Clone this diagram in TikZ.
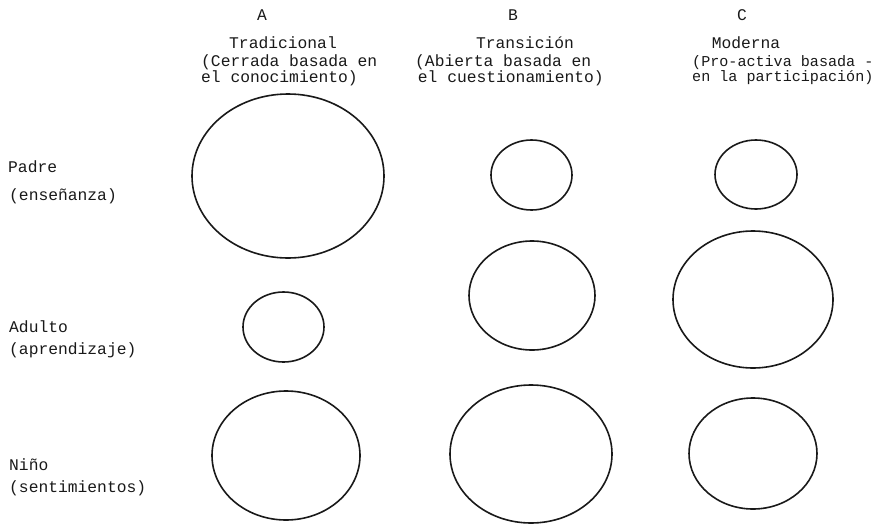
\documentclass[tikz,border=0pt]{standalone}
\usepackage{fontspec}
\newfontfamily\twfont{Liberation Mono}
\usetikzlibrary{shapes.geometric}
\tikzset{
  circ/.style={ellipse, draw=black!90, line width=1.6pt, inner sep=0pt, outer sep=0pt},
  txt/.style={font=\twfont\fontsize{16.3}{14}\selectfont, text=black!90, inner sep=0pt},
  lbl/.style={txt, anchor=west},
  sub/.style={txt, anchor=west, align=left}
}
\begin{document}
\begin{tikzpicture}[x=1pt,y=-1pt]
\useasboundingbox (0,0) rectangle (878,525);
% column headers
\node[txt] (hA) at (262,15) {A};
\node[txt] (hB) at (513,15) {B};
\node[txt] (hC) at (742,15) {C};
\node[txt] (tA) at (283,43) {Tradicional};
\node[txt] (tB) at (525,43) {Transición};
\node[txt] (tC) at (746,43) {Moderna};
\node[sub] (sA) at (201,70) {(Cerrada basada en\\el conocimiento)};
\node[sub] (sB) at (415,70) {(Abierta basada en\\\,el cuestionamiento)};
\node[sub, font=\twfont\fontsize{15.1}{14}\selectfont] (sC) at (692,70) {(Pro-activa basada -\\en la participación)};
% row labels
\node[lbl] (lP1) at (8,167) {Padre};
\node[lbl] (lP2) at (9,196) {(enseñanza)};
\node[lbl] (lA1) at (9,327) {Adulto};
\node[lbl] (lA2) at (9,350) {(aprendizaje)};
\node[lbl] (lN1) at (9,465) {Niño};
\node[lbl] (lN2) at (9,488) {(sentimientos)};
% ellipses
\node[circ, minimum width=192pt, minimum height=164pt] (pA) at (288,176) {};
\node[circ, minimum width=81pt,  minimum height=70pt]  (aA) at (283.5,327) {};
\node[circ, minimum width=148pt, minimum height=129pt] (nA) at (286,455.5) {};
\node[circ, minimum width=81pt,  minimum height=70pt]  (pB) at (531.5,175) {};
\node[circ, minimum width=126pt, minimum height=109pt] (aB) at (532,295.5) {};
\node[circ, minimum width=162pt, minimum height=138pt] (nB) at (531,454) {};
\node[circ, minimum width=82pt,  minimum height=69pt]  (pC) at (756,174.5) {};
\node[circ, minimum width=160pt, minimum height=137pt] (aC) at (753,299.5) {};
\node[circ, minimum width=128pt, minimum height=111pt] (nC) at (753,453.5) {};
\end{tikzpicture}
\end{document}
